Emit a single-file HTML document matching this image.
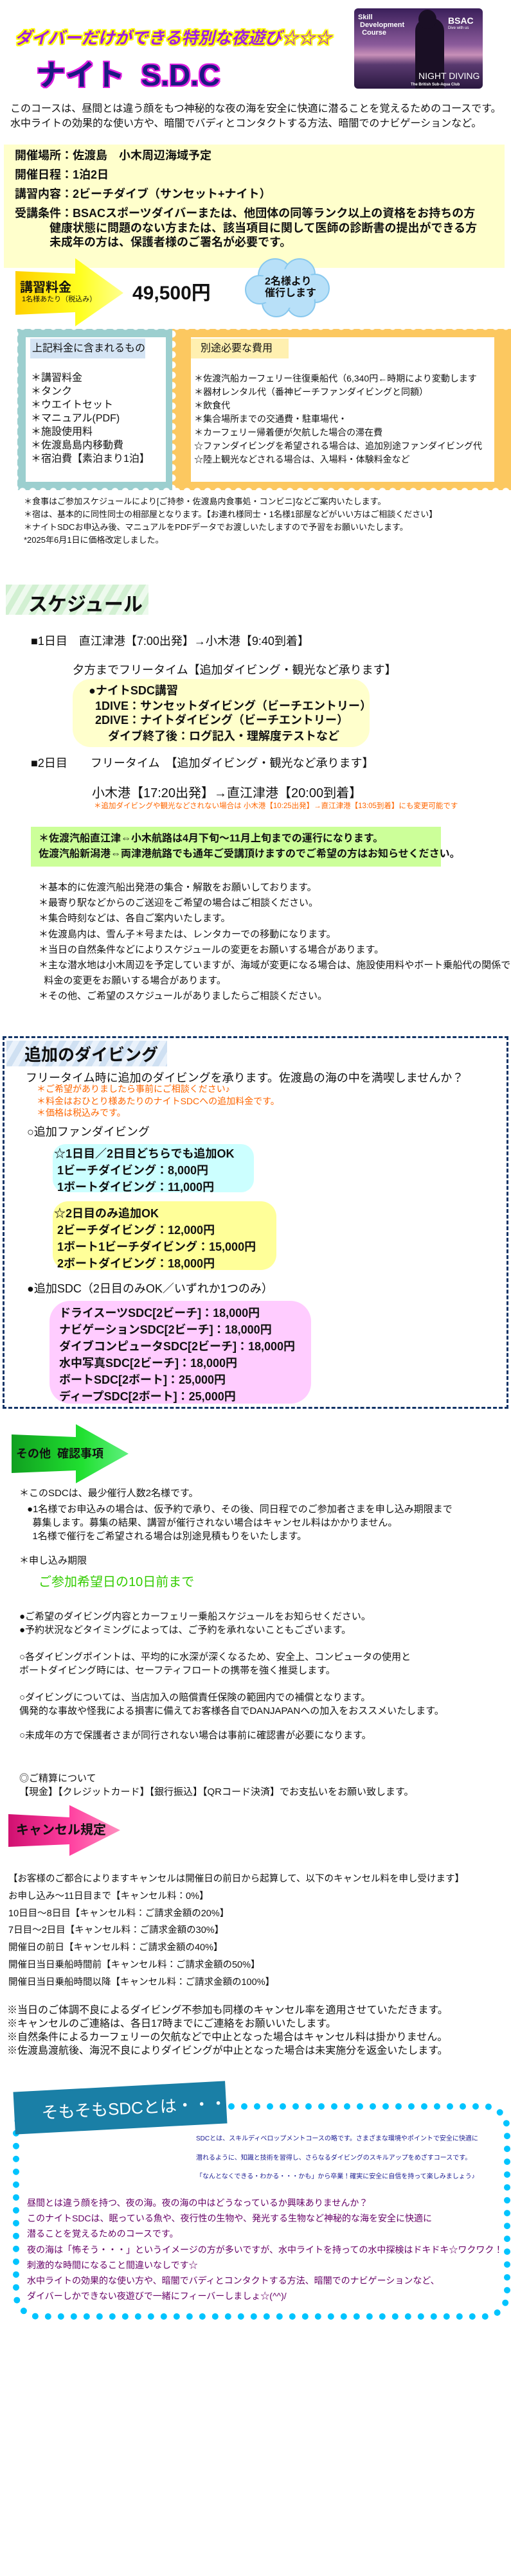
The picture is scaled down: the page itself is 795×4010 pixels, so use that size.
<!DOCTYPE html>
<html><head><meta charset="utf-8">
<style>
*{margin:0;padding:0;box-sizing:border-box}
html,body{overflow:hidden}
body{width:795px;height:4010px;position:relative;background:#fff;font-family:"Liberation Sans","Noto Sans CJK JP",sans-serif;color:#111}
.t{position:absolute;white-space:nowrap;line-height:1;transform-origin:0 0}
.b{font-weight:bold}
.box{position:absolute}
</style></head><body>

<div class="t b" style="left:23px;top:46px;font-size:26px;color:#a020e0;text-shadow:2px 0 #ff0,-2px 0 #ff0,0 2px #ff0,0 -2px #ff0,2px 2px #ff0,-2px -2px #ff0,2px -2px #ff0,-2px 2px #ff0;font-style:italic">ダイバーだけができる特別な夜遊び☆☆☆</div>
<div class="t b" style="left:56px;top:94px;font-size:46px;color:#1a1a80;text-shadow:2px 0 #e020e0,-2px 0 #e020e0,0 2px #e020e0,0 -2px #e020e0,2px 2px #e020e0,-2px -2px #e020e0,2px -2px #e020e0,-2px 2px #e020e0">ナイト&nbsp;&nbsp;S.D.C</div>

<div class="box" style="left:551px;top:13px;width:200px;height:125px;border-radius:6px;overflow:hidden;background:linear-gradient(180deg,#3a1f5a 0%,#8a5a9a 45%,#c890b8 58%,#5a3a70 70%,#2a1840 100%)">
  <div style="position:absolute;left:95px;top:15px;width:45px;height:110px;background:#1a0f25;border-radius:20px 20px 0 0"></div>
  <div style="position:absolute;left:100px;top:2px;width:28px;height:30px;background:#1a0f25;border-radius:50%"></div>
  <div class="t b" style="left:6px;top:8px;font-size:11px;color:#fff;line-height:1.1">Skill<br>&nbsp;Development<br>&nbsp;&nbsp;Course</div>
  <div class="t b" style="left:146px;top:12px;font-size:14px;color:#fff">BSAC</div>
  <div class="t" style="left:146px;top:28px;font-size:6px;color:#fff">Dive with us</div>
  <div class="t" style="left:100px;top:98px;font-size:14px;color:#fff">NIGHT DIVING</div>
  <div class="t b" style="left:88px;top:116px;font-size:6px;color:#fff">The British Sub-Aqua Club</div>
</div>

<div class="t" style="left:16px;top:162px;font-size:16px">このコースは、昼間とは違う顔をもつ神秘的な夜の海を安全に快適に潜ることを覚えるためのコースです。</div>
<div class="t" style="left:16px;top:185px;font-size:16px">水中ライトの効果的な使い方や、暗闇でバディとコンタクトする方法、暗闇でのナビゲーションなど。</div>

<div class="box" style="left:6px;top:225px;width:779px;height:192px;background:#ffffcc"></div>
<div class="t b" style="left:23px;top:233px;font-size:18px">開催場所：佐渡島　小木周辺海域予定</div>
<div class="t b" style="left:23px;top:263px;font-size:18px">開催日程：1泊2日</div>
<div class="t b" style="left:23px;top:293px;font-size:18px">講習内容：2ビーチダイブ（サンセット+ナイト）</div>
<div class="t b" style="left:23px;top:323px;font-size:18px">受講条件：BSACスポーツダイバーまたは、他団体の同等ランク以上の資格をお持ちの方</div>
<div class="t b" style="left:77px;top:346px;font-size:18px">健康状態に問題のない方または、該当項目に関して医師の診断書の提出ができる方</div>
<div class="t b" style="left:77px;top:368px;font-size:18px">未成年の方は、保護者様のご署名が必要です。</div>

<svg class="box" style="left:22px;top:400px" width="175" height="110">
 <defs><linearGradient id="ya" x1="0" x2="1"><stop offset="0" stop-color="#ffd000"/><stop offset="0.6" stop-color="#ffff20"/><stop offset="1" stop-color="#ffff90"/></linearGradient></defs>
 <polygon points="2,22 95,26 95,2 170,56 95,108 95,86 2,90" fill="url(#ya)"/>
</svg>
<div class="t b" style="left:31px;top:438px;font-size:20px">講習料金</div>
<div class="t" style="left:34px;top:461px;font-size:11px">1名様あたり（税込み）</div>
<div class="t b" style="left:206px;top:442px;font-size:30px">49,500円</div>

<svg class="box" style="left:378px;top:397px" width="140" height="100">
 <g fill="#b8e0f8" stroke="#88c8ee" stroke-width="2">
  <circle cx="50" cy="32" r="26"/><circle cx="88" cy="30" r="24"/><circle cx="112" cy="52" r="22"/><circle cx="90" cy="74" r="22"/><circle cx="52" cy="74" r="22"/><circle cx="26" cy="54" r="22"/>
 </g>
 <g fill="#b8e0f8"><ellipse cx="70" cy="52" rx="50" ry="30"/></g>
</svg>
<div class="t b" style="left:412px;top:431px;font-size:16px">2名様より</div>
<div class="t b" style="left:412px;top:449px;font-size:16px">催行します</div>

<div class="box" style="left:27px;top:512px;width:241px;height:251px;background:#9ccfcf"></div>
<div class="box" style="left:268px;top:512px;width:527px;height:251px;background:#fcc860"></div>
<div class="box" style="left:27px;top:508px;width:768px;height:10px;background:radial-gradient(circle at 50% 0,#fff 5px,transparent 6px) 0 0/16px 10px repeat-x"></div>
<div class="box" style="left:27px;top:755px;width:768px;height:10px;background:radial-gradient(circle at 50% 100%,#fff 5px,transparent 6px) 0 0/16px 10px repeat-x"></div>
<div class="box" style="left:23px;top:512px;width:10px;height:251px;background:radial-gradient(circle at 0 50%,#fff 5px,transparent 6px) 0 0/10px 16px repeat-y"></div>
<div class="box" style="left:268px;top:512px;width:10px;height:251px;background:radial-gradient(circle at 0 50%,#fff 5px,transparent 6px) 0 0/10px 16px repeat-y"></div>
<div class="box" style="left:40px;top:525px;width:218px;height:225px;background:#fff"></div>
<div class="box" style="left:297px;top:525px;width:472px;height:225px;background:#fff"></div>
<div class="box" style="left:47px;top:527px;width:179px;height:31px;background:#d4e4f4"></div>
<div class="box" style="left:297px;top:527px;width:152px;height:31px;background:#fff0b0"></div>
<div class="t" style="left:50px;top:535px;font-size:16px">上記料金に含まれるもの</div>
<div class="t" style="left:312px;top:535px;font-size:16px">別途必要な費用</div>
<div class="t" style="left:48px;top:578px;font-size:16px;line-height:21px">＊講習料金<br>＊タンク<br>＊ウエイトセット<br>＊マニュアル(PDF)<br>＊施設使用料<br>＊佐渡島島内移動費<br>＊宿泊費【素泊まり1泊】</div>
<div class="t" style="left:302px;top:579px;font-size:14px;line-height:21px">＊佐渡汽船カーフェリー往復乗船代（6,340円←時期により変動します<br>＊器材レンタル代（番神ビーチファンダイビングと同額）<br>＊飲食代<br>＊集合場所までの交通費・駐車場代・<br>＊カーフェリー帰着便が欠航した場合の滞在費<br>☆ファンダイビングを希望される場合は、追加別途ファンダイビング代<br>☆陸上観光などされる場合は、入場料・体験料金など</div>

<div class="t" style="left:37px;top:771px;font-size:13px;line-height:20px">＊食事はご参加スケジュールにより[ご持参・佐渡島内食事処・コンビニ]などご案内いたします。<br>＊宿は、基本的に同性同士の相部屋となります。【お連れ様同士・1名様1部屋などがいい方はご相談ください】<br>＊ナイトSDCお申込み後、マニュアルをPDFデータでお渡しいたしますので予習をお願いいたします。<br>*2025年6月1日に価格改定しました。</div>

<div class="box" style="left:9px;top:910px;width:222px;height:47px;background:repeating-linear-gradient(120deg,#d2f0d2 0 9px,#eefaee 9px 18px)"></div>
<div class="t b" style="left:44px;top:927px;font-size:30px">スケジュール</div>

<div class="t" style="left:48px;top:989px;font-size:18px">■1日目　直江津港【7:00出発】→小木港【9:40到着】</div>
<div class="t" style="left:113px;top:1034px;font-size:18px">夕方までフリータイム【追加ダイビング・観光など承ります】</div>
<div class="box" style="left:113px;top:1057px;width:462px;height:106px;background:#ffffcc;border-radius:28px"></div>
<div class="t b" style="left:138px;top:1066px;font-size:18px">●ナイトSDC講習</div>
<div class="t b" style="left:148px;top:1090px;font-size:18px">1DIVE：サンセットダイビング（ビーチエントリー）</div>
<div class="t b" style="left:148px;top:1112px;font-size:18px">2DIVE：ナイトダイビング（ビーチエントリー）</div>
<div class="t b" style="left:168px;top:1137px;font-size:18px">ダイブ終了後：ログ記入・理解度テストなど</div>
<div class="t" style="left:48px;top:1179px;font-size:18px">■2日目　　フリータイム　【追加ダイビング・観光など承ります】</div>
<div class="t" style="left:143px;top:1225px;font-size:20px">小木港【17:20出発】→直江津港【20:00到着】</div>
<div class="t" style="left:146px;top:1250px;font-size:11.5px;color:#ff6600">＊追加ダイビングや観光などされない場合は 小木港【10:25出発】→直江津港【13:05到着】にも変更可能です</div>
<div class="box" style="left:48px;top:1287px;width:638px;height:62px;background:#ccff99"></div>
<div class="t b" style="left:60px;top:1298px;font-size:16px">＊佐渡汽船直江津⇔小木航路は4月下旬～11月上旬までの運行になります。</div>
<div class="t b" style="left:60px;top:1322px;font-size:16px">佐渡汽船新潟港⇔両津港航路でも通年ご受講頂けますのでご希望の方はお知らせください。</div>

<div class="t" style="left:60px;top:1370px;font-size:15px;line-height:24.2px">＊基本的に佐渡汽船出発港の集合・解散をお願いしております。<br>＊最寄り駅などからのご送迎をご希望の場合はご相談ください。<br>＊集合時刻などは、各自ご案内いたします。<br>＊佐渡島内は、雪ん子＊号または、レンタカーでの移動になります。<br>＊当日の自然条件などによりスケジュールの変更をお願いする場合があります。<br>＊主な潜水地は小木周辺を予定していますが、海域が変更になる場合は、施設使用料やボート乗船代の関係で<br>&nbsp;&nbsp;料金の変更をお願いする場合があります。<br>＊その他、ご希望のスケジュールがありましたらご相談ください。</div>

<div class="box" style="left:4px;top:1613px;width:787px;height:580px;border:3px dashed #113366"></div>
<div class="box" style="left:10px;top:1620px;width:250px;height:40px;background:repeating-linear-gradient(120deg,#cfe0f2 0 9px,#eaf2fb 9px 18px)"></div>
<div class="t b" style="left:38px;top:1629px;font-size:26px">追加のダイビング</div>
<div class="t" style="left:40px;top:1669px;font-size:18px">フリータイム時に追加のダイビングを承ります。佐渡島の海の中を満喫しませんか？</div>
<div class="t" style="left:57px;top:1686px;font-size:14px;line-height:18.5px;color:#ff6600">＊ご希望がありましたら事前にご相談ください♪<br>＊料金はおひとり様あたりのナイトSDCへの追加料金です。<br>＊価格は税込みです。</div>
<div class="t" style="left:42px;top:1753px;font-size:18px">○追加ファンダイビング</div>
<div class="box" style="left:82px;top:1781px;width:313px;height:75px;background:#ccffff;border-radius:20px"></div>
<div class="t b" style="left:84px;top:1783px;font-size:18px;line-height:26px">☆1日目／2日目どちらでも追加OK<br>&nbsp;1ビーチダイビング：8,000円<br>&nbsp;1ボートダイビング：11,000円</div>
<div class="box" style="left:82px;top:1870px;width:348px;height:107px;background:#ffff99;border-radius:24px"></div>
<div class="t b" style="left:84px;top:1876px;font-size:18px;line-height:26px">☆2日目のみ追加OK<br>&nbsp;2ビーチダイビング：12,000円<br>&nbsp;1ボート1ビーチダイビング：15,000円<br>&nbsp;2ボートダイビング：18,000円</div>
<div class="t" style="left:42px;top:1997px;font-size:18px">●追加SDC（2日目のみOK／いずれか1つのみ）</div>
<div class="box" style="left:77px;top:2025px;width:407px;height:160px;background:#ffccff;border-radius:32px"></div>
<div class="t b" style="left:92px;top:2031px;font-size:18px;line-height:26px">ドライスーツSDC[2ビーチ]：18,000円<br>ナビゲーションSDC[2ビーチ]：18,000円<br>ダイブコンピュータSDC[2ビーチ]：18,000円<br>水中写真SDC[2ビーチ]：18,000円<br>ボートSDC[2ボート]：25,000円<br>ディープSDC[2ボート]：25,000円</div>

<svg class="box" style="left:16px;top:2215px" width="190" height="96">
 <defs><linearGradient id="ga" x1="0" x2="1"><stop offset="0" stop-color="#10a020"/><stop offset="0.6" stop-color="#20e030"/><stop offset="1" stop-color="#60f080"/></linearGradient></defs>
 <polygon points="2,18 102,22 102,2 184,48 102,94 102,74 2,78" fill="url(#ga)"/>
</svg>
<div class="t b" style="left:25px;top:2254px;font-size:18px">その他&nbsp;&nbsp;確認事項</div>

<div class="t" style="left:30px;top:2317px;font-size:15px">＊このSDCは、最少催行人数2名様です。</div>
<div class="t" style="left:42px;top:2339px;font-size:15px;line-height:21px">●1名様でお申込みの場合は、仮予約で承り、その後、同日程でのご参加者さまを申し込み期限まで<br>&nbsp;&nbsp;募集します。募集の結果、講習が催行されない場合はキャンセル料はかかりません。<br>&nbsp;&nbsp;1名様で催行をご希望される場合は別途見積もりをいたします。</div>
<div class="t" style="left:30px;top:2422px;font-size:15px">＊申し込み期限</div>
<div class="t" style="left:60px;top:2453px;font-size:20px;color:#33cc00">ご参加希望日の10日前まで</div>
<div class="t" style="left:30px;top:2507px;font-size:15px;line-height:20.5px">●ご希望のダイビング内容とカーフェリー乗船スケジュールをお知らせください。<br>●予約状況などタイミングによっては、ご予約を承れないこともございます。</div>
<div class="t" style="left:30px;top:2569px;font-size:15px;line-height:21px">○各ダイビングポイントは、平均的に水深が深くなるため、安全上、コンピュータの使用と<br>ボートダイビング時には、セーフティフロートの携帯を強く推奨します。</div>
<div class="t" style="left:30px;top:2632px;font-size:15px;line-height:21px">○ダイビングについては、当店加入の賠償責任保険の範囲内での補償となります。<br>偶発的な事故や怪我による損害に備えてお客様各自でDANJAPANへの加入をおススメいたします。</div>
<div class="t" style="left:30px;top:2694px;font-size:15px">○未成年の方で保護者さまが同行されない場合は事前に確認書が必要になります。</div>
<div class="t" style="left:30px;top:2759px;font-size:15px;line-height:20.5px">◎ご精算について<br>【現金】【クレジットカード】【銀行振込】【QRコード決済】でお支払いをお願い致します。</div>

<svg class="box" style="left:12px;top:2809px" width="180" height="82">
 <defs><linearGradient id="pa" x1="0" x2="1"><stop offset="0" stop-color="#d01070"/><stop offset="0.55" stop-color="#ff40a0"/><stop offset="1" stop-color="#ff90c0"/></linearGradient></defs>
 <polygon points="1,15 96,20 96,1 175,40 96,80 96,62 1,66" fill="url(#pa)"/>
</svg>
<div class="t b" style="left:25px;top:2839px;font-size:20px">キャンセル規定</div>

<div class="t" style="left:13px;top:2912px;font-size:14.5px;line-height:26.8px">【お客様のご都合によりますキャンセルは開催日の前日から起算して、以下のキャンセル料を申し受けます】<br>お申し込み～11日目まで【キャンセル料：0%】<br>10日目～8日目【キャンセル料：ご請求金額の20%】<br>7日目～2日目【キャンセル料：ご請求金額の30%】<br>開催日の前日【キャンセル料：ご請求金額の40%】<br>開催日当日乗船時間前【キャンセル料：ご請求金額の50%】<br>開催日当日乗船時間以降【キャンセル料：ご請求金額の100%】</div>
<div class="t" style="left:11px;top:3119px;font-size:16px;line-height:21px">※当日のご体調不良によるダイビング不参加も同様のキャンセル率を適用させていただきます。<br>※キャンセルのご連絡は、各日17時までにご連絡をお願いいたします。<br>※自然条件によるカーフェリーの欠航などで中止となった場合はキャンセル料は掛かりません。<br>※佐渡島渡航後、海況不良によりダイビングが中止となった場合は未実施分を返金いたします。</div>

<div class="box" style="left:20px;top:3274px;width:774px;height:337px;border:10px dotted #00c4ff;border-radius:40px"></div>
<div class="box" style="left:22px;top:3248px;width:330px;height:66px;background:#1a7fa6;transform:rotate(-3deg)"></div>
<div class="t" style="left:64px;top:3276px;font-size:26px;color:#fff;transform:rotate(-3deg)">そもそもSDCとは・・・</div>
<div class="t" style="left:305px;top:3315px;font-size:10px;line-height:29.5px;color:#1a1a90">SDCとは、スキルディベロップメントコースの略です。さまざまな環境やポイントで安全に快適に<br>潜れるように、知識と技術を習得し、さらなるダイビングのスキルアップをめざすコースです。<br>「なんとなくできる・わかる・・・かも」から卒業！確実に安全に自信を持って楽しみましょう♪</div>
<div class="t" style="left:42px;top:3417px;font-size:14px;line-height:24.2px;color:#660066">昼間とは違う顔を持つ、夜の海。夜の海の中はどうなっているか興味ありませんか？<br>このナイトSDCは、眠っている魚や、夜行性の生物や、発光する生物など神秘的な海を安全に快適に<br>潜ることを覚えるためのコースです。<br>夜の海は「怖そう・・・」というイメージの方が多いですが、水中ライトを持っての水中探検はドキドキ☆ワクワク！<br>刺激的な時間になること間違いなしです☆<br>水中ライトの効果的な使い方や、暗闇でバディとコンタクトする方法、暗闇でのナビゲーションなど、<br>ダイバーしかできない夜遊びで一緒にフィーバーしましょ☆(^^)/</div>

</body></html>
